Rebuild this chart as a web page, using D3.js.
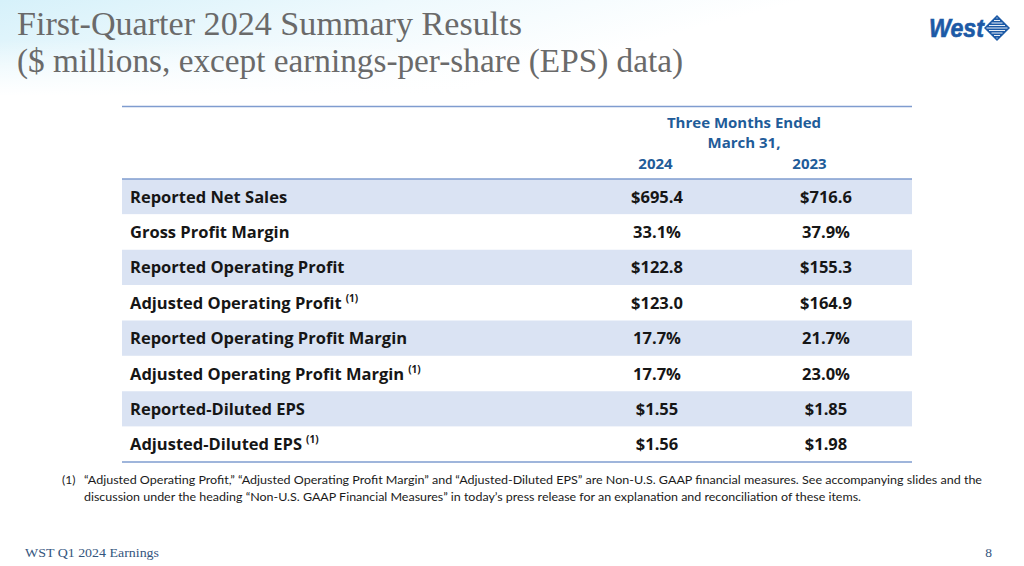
<!DOCTYPE html>
<html><head><meta charset="utf-8">
<script src="https://cdn.jsdelivr.net/npm/d3@7"></script>
<style>html,body{margin:0;padding:0;background:#fff;}svg{display:block;}</style>
</head><body>
<script>
const titleLines = ["First-Quarter 2024 Summary Results", "($ millions, except earnings-per-share (EPS) data)"];
const headerLines = ["Three Months Ended", "March 31,"];
const years = ["2024", "2023"];
const metrics = ["Reported Net Sales", "Gross Profit Margin", "Reported Operating Profit", "Adjusted Operating Profit",
  "Reported Operating Profit Margin", "Adjusted Operating Profit Margin", "Reported-Diluted EPS", "Adjusted-Diluted EPS"];
const footnoted = [false, false, false, true, false, true, false, true];
const values2024 = ["$695.4", "33.1%", "$122.8", "$123.0", "17.7%", "17.7%", "$1.55", "$1.56"];
const values2023 = ["$716.6", "37.9%", "$155.3", "$164.9", "21.7%", "23.0%", "$1.85", "$1.98"];
const footnoteLines = ["\u201cAdjusted Operating Profit,\u201d \u201cAdjusted Operating Profit Margin\u201d and \u201cAdjusted-Diluted EPS\u201d are Non-U.S. GAAP financial measures. See accompanying slides and the",
  "discussion under the heading \u201cNon-U.S. GAAP Financial Measures\u201d in today\u2019s press release for an explanation and reconciliation of these items."];
const footerText = "WST Q1 2024 Earnings";
const pageNum = "8";

const W = 1024, H = 566;
const svg = d3.select("body").append("svg").attr("width", W).attr("height", H);
const defs = svg.append("defs");
const g1 = defs.append("linearGradient").attr("id","bg").attr("x1","0").attr("y1","0").attr("x2","1").attr("y2","0.35");
g1.append("stop").attr("offset","0").attr("stop-color","#d6f1fa");
g1.append("stop").attr("offset","0.35").attr("stop-color","#eef9fd");
g1.append("stop").attr("offset","0.7").attr("stop-color","#ffffff");
svg.append("rect").attr("width", W).attr("height", 95).attr("fill","url(#bg)");
const g2 = defs.append("linearGradient").attr("id","fade").attr("x1","0").attr("y1","0").attr("x2","0").attr("y2","1");
g2.append("stop").attr("offset","0").attr("stop-color","#fff").attr("stop-opacity",0);
g2.append("stop").attr("offset","1").attr("stop-color","#fff").attr("stop-opacity",1);
svg.append("rect").attr("y",40).attr("width", W).attr("height", 56).attr("fill","url(#fade)");

// Title
const titleWidths = [505, 666];
svg.selectAll("text.title").data(titleLines).join("text").attr("class","title")
  .attr("x", 17).attr("y", (d,i) => 35 + i*37)
  .attr("font-family","'Liberation Serif', 'DejaVu Serif', serif").attr("font-size", 33)
  .attr("fill","#6a6a6a")
  .attr("textLength",(d,i)=>titleWidths[i]).attr("lengthAdjust","spacingAndGlyphs")
  .text(d=>d);

// Logo
const logo = svg.append("g").attr("transform","translate(929,15)");
logo.append("text").attr("x",0).attr("y",22).attr("font-family","'Liberation Sans', Arial, sans-serif")
  .attr("font-weight","bold").attr("font-style","italic").attr("font-size",26).attr("fill","#1c5aa6")
  .attr("stroke","#1c5aa6").attr("stroke-width",0.6)
  .attr("textLength",55).attr("lengthAdjust","spacingAndGlyphs").text("West");
const dia = logo.append("g").attr("transform","translate(68,13)");
dia.append("path").attr("d","M0,-13 L13,0 L0,13 L-13,0 Z").attr("fill","#1c5aa6");
d3.range(-10,11,2.5).forEach(yy => {
  const half = 13 - Math.abs(yy);
  dia.append("line").attr("x1",-half+2.5).attr("x2",half-2.5).attr("y1",yy).attr("y2",yy)
    .attr("stroke","#ffffff").attr("stroke-width",0.9);
});

// Table
const x0 = 122, x1 = 912;
const colX = d3.scalePoint().domain(years).range([657, 826]);
const rowY = d3.scaleBand().domain(metrics).range([179, 462]);
const lineColor = "#7f9ccf";
const headColor = "#1f5c99";

svg.selectAll("rect.row").data(metrics).join("rect").attr("class","row")
  .attr("x", x0).attr("width", x1-x0)
  .attr("y", d=>rowY(d)).attr("height", rowY.bandwidth())
  .attr("fill",(d,i)=> i%2===0 ? "#dae3f3" : "#ffffff");

[106.5, 179, 462].forEach(y => svg.append("line").attr("x1",x0).attr("x2",x1).attr("y1",y).attr("y2",y)
  .attr("stroke",lineColor).attr("stroke-width",1.6));

const fontSans = "'Open Sans', Lato, sans-serif";
svg.selectAll("text.hdr").data(headerLines).join("text").attr("class","hdr")
  .attr("x", 744).attr("y",(d,i)=>128 + i*20).attr("text-anchor","middle")
  .attr("font-family",fontSans).attr("font-weight","bold").attr("font-size",15).attr("fill",headColor)
  .text(d=>d);
const yearX = d3.scalePoint().domain(years).range([655.5, 809.5]);
svg.selectAll("text.yr").data(years).join("text").attr("class","yr")
  .attr("x", d=>yearX(d)).attr("y",169).attr("text-anchor","middle")
  .attr("font-family",fontSans).attr("font-weight","bold").attr("font-size",15).attr("fill",headColor)
  .text(d=>d);

const lab = svg.selectAll("text.lab").data(metrics).join("text").attr("class","lab")
  .attr("x",130).attr("y", d=>rowY(d)+rowY.bandwidth()/2+6)
  .attr("font-family",fontSans).attr("font-weight","bold").attr("font-size",16.5).attr("fill","#161616");
lab.append("tspan").text(d=>d);
lab.filter((d,i)=>footnoted[i]).append("tspan").attr("dx",4).attr("dy",-7).attr("font-size",10).text("(1)");

const cols = [values2024, values2023];
years.forEach((yr, j) => {
  svg.selectAll("text.v"+yr).data(cols[j]).join("text").attr("class","v"+yr)
    .attr("x", colX(yr)).attr("y",(d,i)=>rowY(metrics[i])+rowY.bandwidth()/2+6)
    .attr("text-anchor","middle").attr("font-family",fontSans).attr("font-weight","bold")
    .attr("font-size",16.5).attr("fill","#161616").text(d=>d);
});

// Footnote
svg.append("text").attr("x",62).attr("y",484).attr("font-family","Lato, sans-serif").attr("font-size",12)
  .attr("fill","#1a1a1a").text("(1)");
const fw = [898, 777];
svg.selectAll("text.fn").data(footnoteLines).join("text").attr("class","fn")
  .attr("x",84).attr("y",(d,i)=>484+i*17).attr("font-family","Lato, sans-serif").attr("font-size",12)
  .attr("fill","#1a1a1a").attr("textLength",(d,i)=>fw[i]).attr("lengthAdjust","spacingAndGlyphs").text(d=>d);

// Footer
svg.append("text").attr("x",25).attr("y",557).attr("font-family","'Liberation Serif', serif")
  .attr("font-size",13.5).attr("fill","#34557e").attr("textLength",134).attr("lengthAdjust","spacingAndGlyphs").text(footerText);
svg.append("text").attr("x",992).attr("y",557).attr("text-anchor","end").attr("font-family","'Liberation Serif', serif")
  .attr("font-size",13.5).attr("fill","#34557e").text(pageNum);
</script>
</body></html>
